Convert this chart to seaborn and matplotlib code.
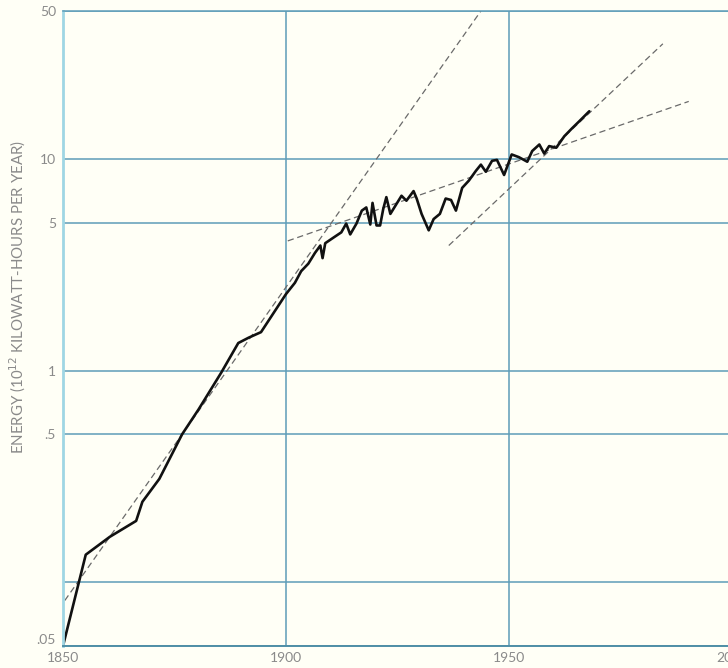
import matplotlib
matplotlib.use("Agg")
import matplotlib.pyplot as plt
import numpy as np
import pandas as pd
import seaborn as sns
from matplotlib.ticker import FixedLocator, FixedFormatter, NullLocator

# World energy consumption, 10^12 kWh per year
years = [1850, 1855.1, 1860.5, 1866.4, 1867.8, 1871.6, 1876.7, 1880.4, 1885.5,
         1889.3, 1891.6, 1894.4, 1900, 1902, 1903.4, 1905, 1906.5, 1907.7,
         1908.2, 1908.8, 1911, 1912.4, 1913.5, 1914.4, 1915.8, 1917, 1918,
         1918.9, 1919.4, 1920.3, 1921.1, 1921.8, 1922.5, 1923.4, 1924.5,
         1925.9, 1927, 1928.6, 1929.3, 1930.4, 1932, 1933.1, 1934.5, 1935.8,
         1937, 1938.1, 1939.5, 1941, 1942.6, 1943.7, 1944.8, 1946.2, 1947.3,
         1948.9, 1950.6, 1952.2, 1954.1, 1955.2, 1956.8, 1957.9, 1959, 1960.6,
         1962.4, 1964.2, 1965.8, 1968]
energy = [0.05, 0.135, 0.164, 0.195, 0.24, 0.308, 0.5, 0.656, 0.98,
          1.35, 1.43, 1.52, 2.3, 2.6, 2.95, 3.2, 3.6, 3.9,
          3.4, 4.0, 4.3, 4.5, 4.95, 4.4, 4.95, 5.7, 5.9,
          4.9, 6.2, 4.85, 4.85, 5.8, 6.6, 5.5, 6.0,
          6.7, 6.35, 7.05, 6.5, 5.5, 4.6, 5.2, 5.5, 6.5,
          6.4, 5.7, 7.3, 7.9, 8.8, 9.4, 8.7, 9.8, 9.9,
          8.4, 10.5, 10.2, 9.7, 10.9, 11.7, 10.6, 11.5, 11.3,
          12.8, 14.0, 15.1, 16.8]

# Exponential trend lines (straight on the log scale)
trend_early_years = [1850.4, 1943.7]
trend_early_values = [0.082, 50]
trend_mid_years = [1900.4, 1990.3]
trend_mid_values = [4.1, 18.7]
trend_late_years = [1936.5, 1984.5]
trend_late_values = [3.9, 35]

x_ticks = [1850, 1900, 1950, 2000]
x_labels = ["1850", "1900", "1950", "2000"]
y_ticks = [0.05, 0.1, 0.5, 1, 5, 10, 50]
y_labels = [".05", "", ".5", "1", "5", "10", "50"]
y_title = "ENERGY (10$^{12}$ KILOWATT-HOURS PER YEAR)"

sns.set_theme(style="white")
plt.rcParams["font.family"] = ["Lato", "DejaVu Sans"]

paper = "#fffff6"
grid_blue = "#5e9db8"
text_grey = "#8a8a8a"

W, H = 728, 668
fig = plt.figure(figsize=(W / 100, H / 100), dpi=100, facecolor=paper)
ax = fig.add_axes([63 / W, 22 / H, 669 / W, 635 / H])
ax.set_facecolor(paper)
ax.set_yscale("log")

dash_kw = dict(color="#6a6a6a", linewidth=0.9, linestyle=(0, (5, 3)), estimator=None)
sns.lineplot(x=trend_early_years, y=trend_early_values, ax=ax, **dash_kw)
sns.lineplot(x=trend_mid_years, y=trend_mid_values, ax=ax, **dash_kw)
sns.lineplot(x=trend_late_years, y=trend_late_values, ax=ax, **dash_kw)

data = pd.DataFrame({"year": years, "energy": energy})
sns.lineplot(data=data, x="year", y="energy", ax=ax, color="#111111",
             linewidth=1.9, estimator=None)

ax.set_xlim(1850, 2000)
ax.set_ylim(0.05, 50)

ax.xaxis.set_major_locator(FixedLocator(x_ticks))
ax.xaxis.set_major_formatter(FixedFormatter(x_labels))
ax.xaxis.set_minor_locator(NullLocator())
ax.yaxis.set_major_locator(FixedLocator(y_ticks))
ax.yaxis.set_major_formatter(FixedFormatter(y_labels))
ax.yaxis.set_minor_locator(NullLocator())

ax.grid(True, which="major", color=grid_blue, linewidth=1.1)
ax.set_axisbelow(True)
ax.tick_params(axis="both", length=0, labelsize=10, labelcolor=text_grey)
ax.tick_params(axis="y", pad=5)
ax.tick_params(axis="x", pad=4)

ax.spines["right"].set_visible(False)
ax.spines["left"].set_color("#9fd6e4")
ax.spines["left"].set_linewidth(2.0)
ax.spines["bottom"].set_color("#4f8ea6")
ax.spines["bottom"].set_linewidth(1.4)
ax.spines["top"].set_color(grid_blue)
ax.spines["top"].set_linewidth(1.1)

ax.set_xlabel("")
label = ax.set_ylabel(y_title, fontsize=10, color=text_grey)
ax.yaxis.set_label_coords(-0.052, 0.55)

# Size the axis title to run about 315 px along the axis
fig.canvas.draw()
span = label.get_window_extent().height
label.set_fontsize(10 * 315 / span)
# Lift the bottom value label clear of the year labels
ax.get_yticklabels()[0].set_verticalalignment("bottom")

fig.savefig("out.png", dpi=100, facecolor=paper)
